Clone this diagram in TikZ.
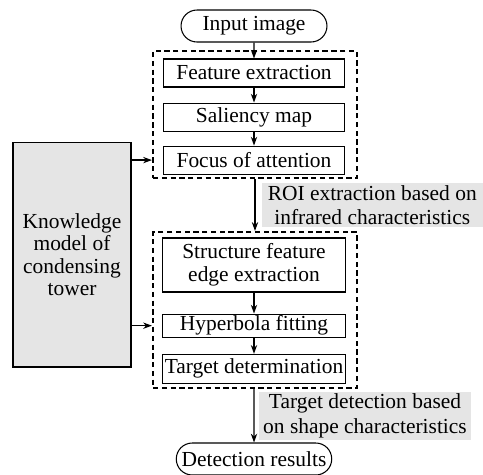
\documentclass[tikz,border=0pt]{standalone}
\usepackage{fontspec}
\setmainfont{Liberation Serif}
\usetikzlibrary{arrows.meta,positioning,shapes.misc}

\begin{document}
\begin{tikzpicture}[
  x=0.02cm,y=-0.02cm,
  font=\fontsize{12.2}{13.2}\selectfont,
  node distance=0.3cm,
  stage/.style={draw,line width=0.6pt,minimum width=3.62cm,minimum height=0.56cm,inner sep=1pt,align=center},
  terminal/.style={draw,rounded rectangle,line width=0.6pt,minimum height=0.64cm,inner sep=2pt},
  group/.style={draw,dash pattern=on 3pt off 2pt,line width=1.25pt,inner sep=0pt},
  note/.style={fill=gray!20,align=center,inner sep=1pt,font=\fontsize{12.2}{14}\selectfont},
  flow/.style={-{Stealth[length=5pt,width=3.6pt]},line width=0.7pt}
]
  \useasboundingbox (0,0) rectangle (483,474);

  \node[terminal,minimum width=3.06cm] (input) at (254,26) {Input image};

  \node[group,minimum width=4.08cm,minimum height=2.54cm] (grpA) at (255,114.5) {};
  \node[stage] (fe) at (254,73) {Feature extraction};
  \node[stage,below=of fe] (sal) {Saliency map};
  \node[stage,below=0.28cm of sal] (foa) {Focus of attention};

  \node[group,minimum width=4.08cm,minimum height=3.12cm] (grpB) at (255,310) {};
  \node[stage,minimum width=3.66cm,minimum height=1.08cm] (sfe) at (254,265) {Structure feature\\edge extraction};
  \node[stage,minimum width=3.66cm,minimum height=0.46cm,below=0.42cm of sfe] (hyp) {Hyperbola fitting};
  \node[stage,minimum width=3.66cm,minimum height=0.58cm,below=0.32cm of hyp] (tdet) {Target determination};

  \node[terminal,minimum width=3.0cm] (det) at (254,459) {Detection results};

  \node[draw,fill=gray!20,line width=0.6pt,minimum width=2.36cm,minimum height=4.5cm,align=center,
    font=\fontsize{12.2}{12.8}\selectfont] (know) at (72,254.5) {Knowledge\\model of\\condensing\\tower};

  \draw[flow] (input) -- (fe);
  \draw[flow] (fe) -- (sal);
  \draw[flow] (sal) -- (foa);
  \draw[flow] (grpA) -- node[note,right=3.5pt,minimum width=4.42cm,minimum height=0.86cm]
    {ROI extraction based on\\infrared characteristics} (grpB);
  \draw[flow] (sfe) -- (hyp);
  \draw[flow] (hyp) -- (tdet);
  \draw[flow] (grpB.south -| det) -- node[note,right=2.5pt,minimum width=4.24cm,minimum height=0.86cm]
    {Target detection based\\on shape characteristics} (det);

  \draw[flow] (know.east |- foa) -- (grpA.west |- foa);
  \draw[flow] (know.east |- hyp) -- (grpB.west |- hyp);
\end{tikzpicture}
\end{document}
